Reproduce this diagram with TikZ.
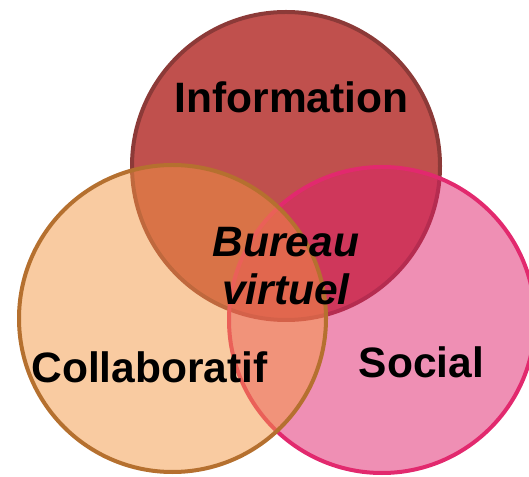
\documentclass[tikz,border=0pt]{standalone}
\usepackage{fontspec}
\setmainfont{Liberation Sans}
\usepackage{xcolor}
\definecolor{infoFill}{HTML}{C0504D}
\definecolor{infoLine}{HTML}{8C3A38}
\definecolor{socFill}{HTML}{DF1F69}
\definecolor{socLine}{HTML}{E2296E}
\definecolor{colFill}{HTML}{F39743}
\definecolor{colLine}{HTML}{B5702F}

\begin{document}
\begin{tikzpicture}[x=1pt,y=1pt,
  venn/.style={circle,line width=4pt,inner sep=0pt,outer sep=0pt},
  lbl/.style={font=\fontsize{42.5}{48}\selectfont\bfseries,inner sep=0pt}]
  \clip (0,0) rectangle (529,476);

  % the three sets
  \node[venn,draw=infoLine,fill=infoFill,minimum size=308pt] (In) at (286,310) {};
  \node[venn,draw=socLine,fill=socFill,fill opacity=0.5,minimum size=306pt] (So) at (382,156) {};
  \node[venn,draw=colLine,fill=colFill,fill opacity=0.5,minimum size=307pt] (Co) at (172.5,157.5) {};

  % labels
  \node[lbl,anchor=base] (InLa) at (291.5,363) {Information};
  \node[lbl,anchor=base] (CoLa) at (149.5,93) {Collaboratif};
  \node[lbl,anchor=base] (SoLa) at (421.5,98) {Social};
  \node[lbl,font=\fontsize{42.5}{48}\selectfont\bfseries\itshape,align=center] (BuVi) at (286,210) {Bureau\\virtuel};

\end{tikzpicture}
\end{document}
